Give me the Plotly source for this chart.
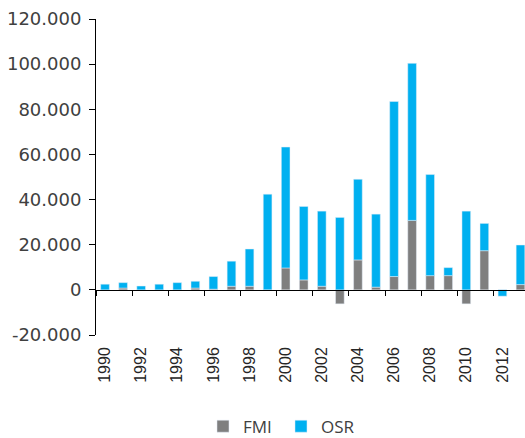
import plotly.graph_objects as go

years = list(range(1990, 2014))
fmi = [0, 800, 0, 0, 0, 800, 300, 1600, 1600, 0, 9700, 4400, 1600, -6200,
       13250, 1200, 5900, 30770, 6300, 6300, -6200, 17350, 0, 2340]
osr = [2500, 2400, 1700, 2500, 3200, 3000, 5600, 11100, 16500, 42400, 53570,
       32550, 33280, 32090, 35750, 32350, 77540, 69580, 44780, 3550, 34880,
       12090, -2800, 17530]
label_years = list(range(1990, 2013, 2))
y_ticks = list(range(-20000, 120001, 20000))
y_ticktext = ["-20.000", "0", "20.000", "40.000", "60.000", "80.000", "100.000", "120.000"]

fig = go.Figure()
fig.add_trace(go.Bar(x=years, y=fmi, name="FMI", marker_color="#7f7f7f", width=0.48))
fig.add_trace(go.Bar(x=years, y=osr, name="OSR", marker_color="#00b0f0", width=0.48))
# invisible trace to carry the zero axis
fig.add_trace(go.Scatter(x=[years[0]], y=[0], xaxis="x2", showlegend=False,
                         mode="markers", marker_opacity=0, hoverinfo="skip"))

xr = [1989.5, 2013.25]
fig.update_layout(
    width=525, height=438,
    margin=dict(l=96, r=0, t=19, b=103, autoexpand=False),
    barmode="relative",
    plot_bgcolor="white", paper_bgcolor="white",
    font=dict(family="'DejaVu Sans', sans-serif", size=15, color="#404040"),
    xaxis=dict(range=xr, tickvals=label_years, ticktext=[str(y) for y in label_years],
               tickangle=-90, showline=False, ticks="", showgrid=False, zeroline=False,
               automargin=False, ticklabelstandoff=8,
               tickfont=dict(family="'Liberation Sans', Arial, sans-serif", size=16,
                             color="#262626")),
    xaxis2=dict(range=xr, overlaying="x", anchor="free", position=1/7,
                showline=True, linecolor="black", linewidth=1,
                tickvals=[y + 0.5 for y in range(1989, 2014, 2)],
                ticks="outside", ticklen=5, tickcolor="black", automargin=False,
                showticklabels=False, showgrid=False, zeroline=False),
    yaxis=dict(range=[-20000, 120000], tickvals=y_ticks, ticktext=y_ticktext,
               showline=True, linecolor="black", linewidth=1,
               ticks="outside", ticklen=6, tickcolor="black",
               showgrid=False, zeroline=False, automargin=False,
               ticklabelstandoff=4,
               tickfont=dict(family="'DejaVu Sans', sans-serif", size=18,
                             color="#404040")),
    legend=dict(orientation="h", x=0.2494, xanchor="left", y=-0.29, yanchor="middle",
                entrywidth=33,
                font=dict(family="'Open Sans', sans-serif", size=17, color="#404040"),
                traceorder="normal"),
)
fig.write_html("out.html", config={"displayModeBar": False},
               post_script="document.body.style.margin='0';")
